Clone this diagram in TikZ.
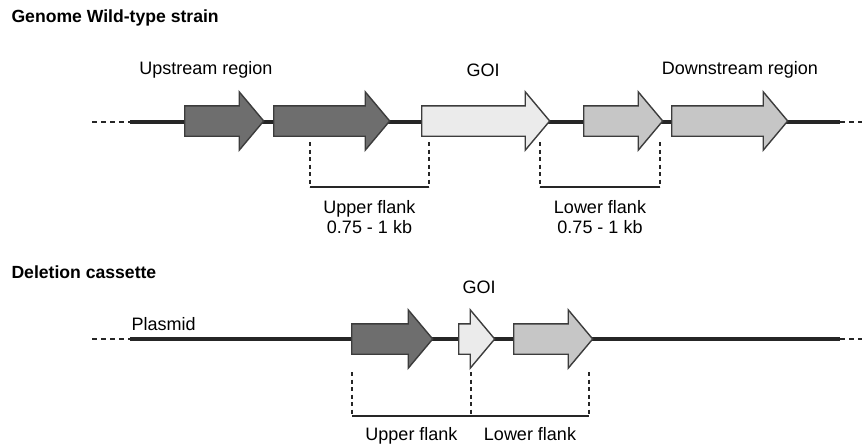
\documentclass[tikz,border=0pt]{standalone}
\usepackage{fontspec}
\setmainfont{Liberation Sans}
\usepackage{tikz}
\usetikzlibrary{shapes.arrows,positioning,calc}

\definecolor{geneedge}{HTML}{3C3C3C}
\definecolor{genedark}{HTML}{6E6E6E}
\definecolor{genegoi}{HTML}{EBEBEB}
\definecolor{genelow}{HTML}{C6C6C6}

\begin{document}
\begin{tikzpicture}[x=1pt,y=-1pt,font=\fontsize{18}{20}\selectfont,
  gene/.style={single arrow,draw=geneedge,line width=1.4pt,minimum height=#1,
    single arrow head extend=14pt,single arrow tip angle=100,single arrow head indent=0pt,
    inner xsep=0pt,inner ysep=14.5pt,anchor=tail},
  backbone/.style={line width=3.2pt,black!85},
  loose/.style={line width=2pt,black!85,dash pattern=on 5pt off 4pt},
  flank/.style={line width=2.6pt,black!85,dash pattern=on 4pt off 3.5pt},
  span/.style={line width=2.4pt,black!85},
  title/.style={font=\fontsize{17.6}{20}\selectfont\bfseries,anchor=west},
  label/.style={align=center}]
\useasboundingbox (0,0) rectangle (866,445);

% genome wild-type strain
\node[title] (wttitle) at (8,18) {Genome Wild-type strain};
\coordinate (wtdash) at (92,122);
\coordinate (wtstart) at (130,122);
\coordinate (wtend) at (840,122);
\coordinate (wtdashend) at (862,122);
\draw[loose] (wtdash) -- (wtstart);
\draw[backbone] (wtstart) -- (wtend);
\draw[loose] (wtend) -- (wtdashend);
\node[gene=79pt,fill=genedark] (up1) at (184,121) {};
\node[gene=116pt,fill=genedark] (up2) at (273,121) {};
\node[gene=128pt,fill=genegoi] (goi) at (421,121) {};
\node[gene=79pt,fill=genelow] (down1) at (583,121) {};
\node[gene=116pt,fill=genelow] (down2) at (671,121) {};
\node (uplabel) at (206,70) {Upstream region};
\node (goilabel) at (483,70) {GOI};
\node (downlabel) at (740,70) {Downstream region};

% flanks
\coordinate (uf1) at (310,142);
\coordinate (uf2) at (429,142);
\coordinate (ub1) at (310,187);
\coordinate (ub2) at (429,187);
\coordinate (lf1) at (540,142);
\coordinate (lf2) at (660,142);
\coordinate (lb1) at (540,187);
\coordinate (lb2) at (660,187);
\draw[flank] (uf1) -- (ub1); \draw[flank] (uf2) -- (ub2);
\draw[span] (ub1) -- (ub2);
\draw[flank] (lf1) -- (lb1); \draw[flank] (lf2) -- (lb2);
\draw[span] (lb1) -- (lb2);
\node[label,below=10pt of $(ub1)!0.5!(ub2)$] (upflank) {Upper flank\\0.75 - 1 kb};
\node[label,below=10pt of $(lb1)!0.5!(lb2)$] (lowflank) {Lower flank\\0.75 - 1 kb};

% deletion cassette
\node[title] (dctitle) at (8,272) {Deletion cassette};
\coordinate (dcdash) at (92,339);
\coordinate (dcstart) at (130,339);
\coordinate (dcend) at (840,339);
\coordinate (dcdashend) at (862,339);
\draw[loose] (dcdash) -- (dcstart);
\draw[backbone] (dcstart) -- (dcend);
\draw[loose] (dcend) -- (dcdashend);
\node[gene=81pt,fill=genedark] (dcup) at (351,339) {};
\node[gene=36pt,fill=genegoi] (dcgoi) at (458,339) {};
\node[gene=79pt,fill=genelow] (dcdown) at (513,339) {};
\node[anchor=west] (plasmid) at (128,324) {Plasmid};
\node (dcgoilabel) at (479,287) {GOI};

\coordinate (cf1) at (352,372);
\coordinate (cf2) at (471,372);
\coordinate (cf3) at (589,372);
\coordinate (cb1) at (352,416);
\coordinate (cb2) at (471,416);
\coordinate (cb3) at (589,416);
\draw[flank] (cf1) -- (cb1); \draw[flank] (cf2) -- (cb2); \draw[flank] (cf3) -- (cb3);
\draw[span] (cb1) -- (cb3);
\node[below=8pt of $(cb1)!0.5!(cb2)$] (dcupflank) {Upper flank};
\node[below=8pt of $(cb2)!0.5!(cb3)$] (dclowflank) {Lower flank};
\end{tikzpicture}
\end{document}
